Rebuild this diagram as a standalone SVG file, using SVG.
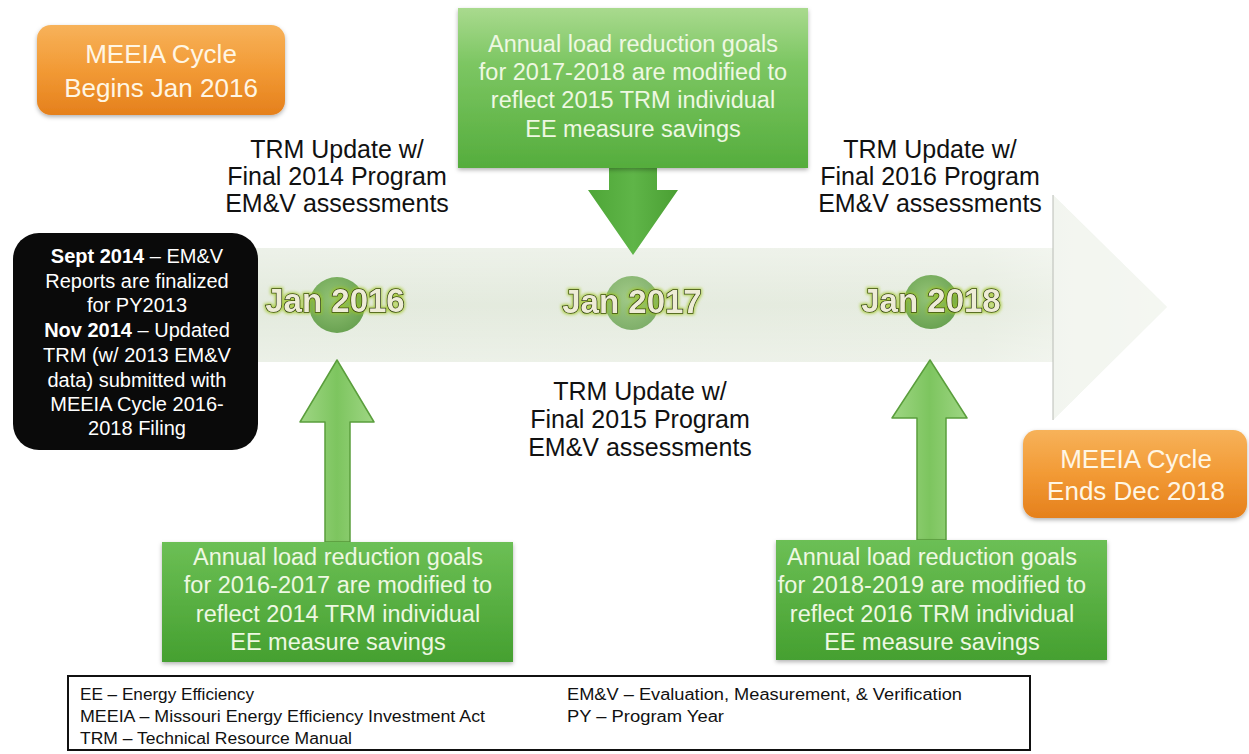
<svg xmlns="http://www.w3.org/2000/svg" width="1249" height="754" viewBox="0 0 1249 754">
  <defs>
    <linearGradient id="gOrange" x1="0" y1="0" x2="0" y2="1">
      <stop offset="0" stop-color="#f7b25a"/>
      <stop offset="0.5" stop-color="#f29a35"/>
      <stop offset="1" stop-color="#e5801c"/>
    </linearGradient>
    <linearGradient id="gGreenBox" x1="0" y1="0" x2="0" y2="1">
      <stop offset="0" stop-color="#6cbf55"/>
      <stop offset="1" stop-color="#45a030"/>
    </linearGradient>
    <linearGradient id="gGreenTop" x1="0" y1="0" x2="0" y2="1">
      <stop offset="0" stop-color="#a9da8e"/>
      <stop offset="0.35" stop-color="#7cc662"/>
      <stop offset="1" stop-color="#55ad3d"/>
    </linearGradient>
    <linearGradient id="gDown" x1="0" y1="0" x2="1" y2="0">
      <stop offset="0" stop-color="#4ea637"/>
      <stop offset="0.5" stop-color="#5fb548"/>
      <stop offset="1" stop-color="#4a9f33"/>
    </linearGradient>
    <linearGradient id="gUp" x1="0" y1="0" x2="1" y2="0">
      <stop offset="0" stop-color="#9fd684"/>
      <stop offset="0.5" stop-color="#7dc55f"/>
      <stop offset="1" stop-color="#9fd684"/>
    </linearGradient>
    <linearGradient id="gBand" x1="0" y1="0" x2="1" y2="0">
      <stop offset="0" stop-color="#e3eadd"/>
      <stop offset="0.8" stop-color="#e6ece0"/>
      <stop offset="1" stop-color="#f5f8f2"/>
    </linearGradient>
    <linearGradient id="gBandV" x1="0" y1="0" x2="0" y2="1">
      <stop offset="0" stop-color="#ffffff" stop-opacity="0.35"/>
      <stop offset="0.5" stop-color="#ffffff" stop-opacity="0"/>
      <stop offset="1" stop-color="#ffffff" stop-opacity="0.3"/>
    </linearGradient>
    <radialGradient id="gDot" cx="0.45" cy="0.4" r="0.6">
      <stop offset="0" stop-color="#8cc06b"/>
      <stop offset="1" stop-color="#5c9a42"/>
    </radialGradient>
    <filter id="shadow" x="-10%" y="-10%" width="120%" height="125%">
      <feDropShadow dx="0" dy="2" stdDeviation="2" flood-color="#000" flood-opacity="0.3"/>
    </filter>
    <filter id="glow" x="-20%" y="-40%" width="140%" height="180%">
      <feMorphology in="SourceAlpha" operator="dilate" radius="1" result="fat"/>
      <feGaussianBlur in="fat" stdDeviation="1.5" result="blur"/>
      <feFlood flood-color="#9cc41e" flood-opacity="0.75"/>
      <feComposite in2="blur" operator="in" result="halo"/>
      <feMerge>
        <feMergeNode in="halo"/>
        <feMergeNode in="SourceGraphic"/>
      </feMerge>
    </filter>
  </defs>
  <style>
    text { font-family: "Liberation Sans", Arial, sans-serif; }
    .orangeTxt { font-size: 26px; fill: #fff6e4; text-anchor: middle; }
    .greenTxt { font-size: 23.5px; fill: #eef8e2; text-anchor: middle; }
    .trm { font-size: 25px; fill: #111; text-anchor: middle; }
    .blackTxt { font-size: 20px; fill: #fff; text-anchor: middle; }
    .jan { font-size: 33px; font-weight: bold; fill: #eeecd6; stroke: #24320e; stroke-width: 1.5; text-anchor: middle; paint-order: stroke; }
    .legend { font-size: 16px; fill: #111; }
  </style>

  <rect width="1249" height="754" fill="#ffffff"/>

  <!-- timeline band with big arrowhead -->
  <g id="timeline">
    <path d="M250,248 H1053 V195 L1167,307 L1053,420 V362 H250 Z" fill="url(#gBand)"/>
    <path d="M1053,195 L1167,307 L1053,420 Z" fill="#f4f6f1" opacity="0.8"/>
    <rect x="250" y="248" width="803" height="114" fill="url(#gBandV)"/>
    <line x1="1053" y1="195" x2="1053" y2="420" stroke="#b9bcb6" stroke-width="1"/>
  </g>

  <!-- milestone dots -->
  <g id="dots">
    <circle cx="337" cy="305" r="28" fill="url(#gDot)" opacity="0.9"/>
    <circle cx="632" cy="303" r="27" fill="url(#gDot)" opacity="0.75"/>
    <circle cx="931" cy="302" r="27" fill="url(#gDot)" opacity="0.9"/>
  </g>

  <g id="jan2016"><text class="jan" x="335" y="312" filter="url(#glow)">Jan 2016</text></g>
  <g id="jan2017"><text class="jan" x="632" y="313" filter="url(#glow)">Jan 2017</text></g>
  <g id="jan2018"><text class="jan" x="931" y="312" filter="url(#glow)">Jan 2018</text></g>

  <!-- connectors: block arrows -->
  <g id="connectors">
    <path d="M609,166 H657 V190 H678 L633,255 L588,190 H609 Z" fill="url(#gDown)"/>
    <path d="M337,360 L374,422 H350 V542 H325 V422 H300 Z" fill="url(#gUp)" stroke="#5a9e3c" stroke-width="1.5" stroke-linejoin="round"/>
    <path d="M930,360 L967,418 H946 V540 H917 V418 H892 Z" fill="url(#gUp)" stroke="#5a9e3c" stroke-width="1.5" stroke-linejoin="round"/>
  </g>

  <!-- cycle start -->
  <g id="cycleBegins">
    <rect x="37" y="25" width="248" height="90" rx="14" fill="url(#gOrange)" filter="url(#shadow)"/>
    <text class="orangeTxt" x="161" y="63">MEEIA Cycle</text>
    <text class="orangeTxt" x="161" y="97">Begins Jan 2016</text>
  </g>

  <!-- cycle end -->
  <g id="cycleEnds">
    <rect x="1023" y="430" width="224" height="88" rx="14" fill="url(#gOrange)" filter="url(#shadow)"/>
    <text class="orangeTxt" x="1136" y="468">MEEIA Cycle</text>
    <text class="orangeTxt" x="1136" y="500">Ends Dec 2018</text>
  </g>

  <!-- goals 2017-2018 -->
  <g id="goals2017">
    <rect x="458" y="8" width="350" height="160" fill="url(#gGreenTop)" filter="url(#shadow)"/>
    <text class="greenTxt" x="633" y="52">Annual load reduction goals</text>
    <text class="greenTxt" x="633" y="80">for 2017-2018 are modified to</text>
    <text class="greenTxt" x="633" y="108">reflect 2015 TRM individual</text>
    <text class="greenTxt" x="633" y="137">EE measure savings</text>
  </g>

  <!-- goals 2016-2017 -->
  <g id="goals2016">
    <rect x="162" y="542" width="351" height="120" fill="url(#gGreenBox)" filter="url(#shadow)"/>
    <text class="greenTxt" x="338" y="565">Annual load reduction goals</text>
    <text class="greenTxt" x="338" y="593">for 2016-2017 are modified to</text>
    <text class="greenTxt" x="338" y="622">reflect 2014 TRM individual</text>
    <text class="greenTxt" x="338" y="650">EE measure savings</text>
  </g>

  <!-- goals 2018-2019 -->
  <g id="goals2018">
    <rect x="776" y="540" width="331" height="120" fill="url(#gGreenBox)" filter="url(#shadow)"/>
    <text class="greenTxt" x="932" y="565">Annual load reduction goals</text>
    <text class="greenTxt" x="932" y="593">for 2018-2019 are modified to</text>
    <text class="greenTxt" x="932" y="622">reflect 2016 TRM individual</text>
    <text class="greenTxt" x="932" y="650">EE measure savings</text>
  </g>

  <!-- TRM update labels -->
  <g id="trm2014">
    <text class="trm" x="337" y="158">TRM Update w/</text>
    <text class="trm" x="337" y="185">Final 2014 Program</text>
    <text class="trm" x="337" y="212">EM&amp;V assessments</text>
  </g>
  <g id="trm2015">
    <text class="trm" x="640" y="400">TRM Update w/</text>
    <text class="trm" x="640" y="428">Final 2015 Program</text>
    <text class="trm" x="640" y="456">EM&amp;V assessments</text>
  </g>
  <g id="trm2016">
    <text class="trm" x="930" y="158">TRM Update w/</text>
    <text class="trm" x="930" y="185">Final 2016 Program</text>
    <text class="trm" x="930" y="212">EM&amp;V assessments</text>
  </g>

  <!-- EM&V filing history -->
  <g id="history">
    <rect x="13" y="233" width="245" height="217" rx="26" fill="#0a0a0a"/>
    <text class="blackTxt" x="137" y="263"><tspan font-weight="bold">Sept 2014</tspan> – EM&amp;V</text>
    <text class="blackTxt" x="137" y="288">Reports are finalized</text>
    <text class="blackTxt" x="137" y="312">for PY2013</text>
    <text class="blackTxt" x="137" y="337"><tspan font-weight="bold">Nov 2014</tspan> – Updated</text>
    <text class="blackTxt" x="137" y="362">TRM (w/ 2013 EM&amp;V</text>
    <text class="blackTxt" x="137" y="387">data) submitted with</text>
    <text class="blackTxt" x="137" y="411">MEEIA Cycle 2016-</text>
    <text class="blackTxt" x="137" y="435">2018 Filing</text>
  </g>

  <!-- abbreviations -->
  <g id="legend">
    <rect x="68" y="676" width="962" height="74" fill="#fff" stroke="#111" stroke-width="2"/>
    <text class="legend" x="80" y="700" textLength="174" lengthAdjust="spacingAndGlyphs">EE – Energy Efficiency</text>
    <text class="legend" x="80" y="722" textLength="405" lengthAdjust="spacingAndGlyphs">MEEIA – Missouri Energy Efficiency Investment Act</text>
    <text class="legend" x="80" y="744" textLength="272" lengthAdjust="spacingAndGlyphs">TRM – Technical Resource Manual</text>
    <text class="legend" x="567" y="700" textLength="395" lengthAdjust="spacingAndGlyphs">EM&amp;V – Evaluation, Measurement, &amp; Verification</text>
    <text class="legend" x="567" y="722" textLength="157" lengthAdjust="spacingAndGlyphs">PY – Program Year</text>
  </g>
</svg>
